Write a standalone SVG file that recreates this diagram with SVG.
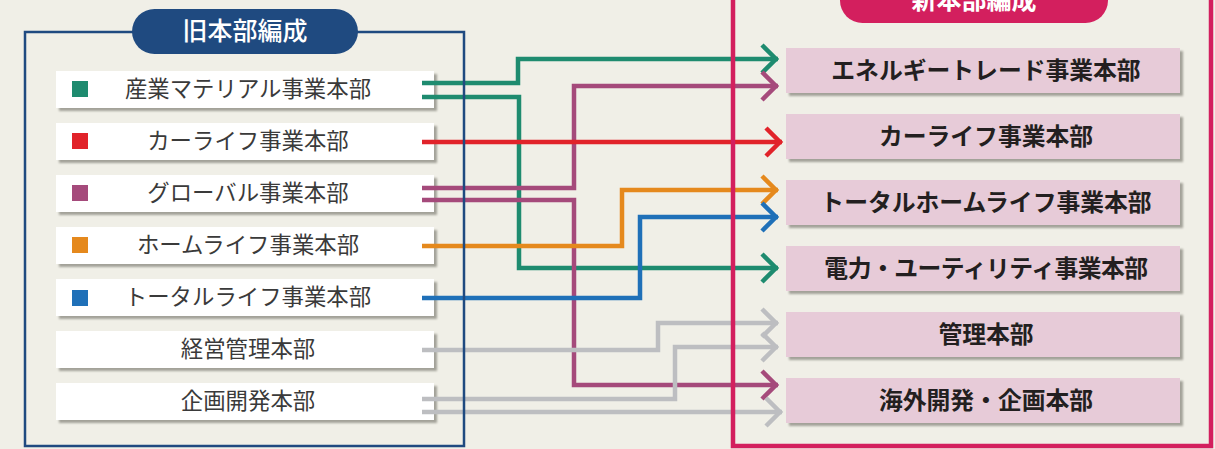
<svg xmlns="http://www.w3.org/2000/svg" width="1215" height="449" viewBox="0 0 1215 449">
  <style>
    .old rect.box { fill: #ffffff; }
    .new rect.box { fill: #e7cbd8; }
    .shadow { fill: #a3a299; filter: url(#soft); }
    .oldtxt { font-family: "Noto Sans CJK JP", "Noto Sans", sans-serif; font-size: 22.4px; fill: #3a3a3a; text-anchor: middle; }
    .newtxt { font-family: "Noto Sans CJK JP", "Noto Sans", sans-serif; font-size: 23.8px; font-weight: bold; fill: #231f20; text-anchor: middle; }
    .title { font-family: "Noto Sans CJK JP", "Noto Sans", sans-serif; font-size: 25px; font-weight: bold; fill: #ffffff; text-anchor: middle; }
    .link { fill: none; stroke-width: 4.5; stroke-linejoin: miter; }
    .teal { stroke: #1e8b6f; }
    .mag { stroke: #a54a7b; }
    .red { stroke: #e1232a; }
    .orange { stroke: #e5891d; }
    .blue { stroke: #1f70b8; }
    .gray { stroke: #bdbec1; }
  </style>
  <defs>
    <filter id="soft" x="-5%" y="-20%" width="110%" height="140%">
      <feGaussianBlur stdDeviation="1"/>
    </filter>
    <marker id="ah-teal" markerUnits="userSpaceOnUse" markerWidth="40" markerHeight="40" viewBox="-20 -20 40 40" refX="0" refY="0" orient="auto" overflow="visible">
      <path d="M-16,-14 L-2,0 L-16,14" fill="none" stroke="#1e8b6f" stroke-width="4.5"/>
    </marker>
    <marker id="ah-mag" markerUnits="userSpaceOnUse" markerWidth="40" markerHeight="40" viewBox="-20 -20 40 40" refX="0" refY="0" orient="auto" overflow="visible">
      <path d="M-16,-14 L-2,0 L-16,14" fill="none" stroke="#a54a7b" stroke-width="4.5"/>
    </marker>
    <marker id="ah-red" markerUnits="userSpaceOnUse" markerWidth="40" markerHeight="40" viewBox="-20 -20 40 40" refX="0" refY="0" orient="auto" overflow="visible">
      <path d="M-16,-14 L-2,0 L-16,14" fill="none" stroke="#e1232a" stroke-width="4.5"/>
    </marker>
    <marker id="ah-orange" markerUnits="userSpaceOnUse" markerWidth="40" markerHeight="40" viewBox="-20 -20 40 40" refX="0" refY="0" orient="auto" overflow="visible">
      <path d="M-16,-14 L-2,0 L-16,14" fill="none" stroke="#e5891d" stroke-width="4.5"/>
    </marker>
    <marker id="ah-blue" markerUnits="userSpaceOnUse" markerWidth="40" markerHeight="40" viewBox="-20 -20 40 40" refX="0" refY="0" orient="auto" overflow="visible">
      <path d="M-16,-14 L-2,0 L-16,14" fill="none" stroke="#1f70b8" stroke-width="4.5"/>
    </marker>
    <marker id="ah-gray" markerUnits="userSpaceOnUse" markerWidth="40" markerHeight="40" viewBox="-20 -20 40 40" refX="0" refY="0" orient="auto" overflow="visible">
      <path d="M-16,-14 L-2,0 L-16,14" fill="none" stroke="#bdbec1" stroke-width="4.5"/>
    </marker>
  </defs>

  <!-- page background -->
  <rect x="0" y="0" width="1215" height="449" fill="#f0efe7"/>

  <!-- former divisions -->
  <g id="old-1" class="old">
    <rect class="shadow" x="59" y="74" width="378" height="37"/>
    <rect class="box" x="56" y="71" width="378" height="37"/>
    <rect x="72" y="81" width="16" height="16" fill="#1e8b6f"/>
    <text class="oldtxt" x="248" y="97">産業マテリアル事業本部</text>
  </g>
  <g id="old-2" class="old">
    <rect class="shadow" x="59" y="126" width="378" height="37"/>
    <rect class="box" x="56" y="123" width="378" height="37"/>
    <rect x="72" y="133" width="16" height="16" fill="#e1232a"/>
    <text class="oldtxt" x="248" y="149">カーライフ事業本部</text>
  </g>
  <g id="old-3" class="old">
    <rect class="shadow" x="59" y="178" width="378" height="37"/>
    <rect class="box" x="56" y="175" width="378" height="37"/>
    <rect x="72" y="185" width="16" height="16" fill="#a54a7b"/>
    <text class="oldtxt" x="248" y="201">グローバル事業本部</text>
  </g>
  <g id="old-4" class="old">
    <rect class="shadow" x="59" y="230" width="378" height="37"/>
    <rect class="box" x="56" y="227" width="378" height="37"/>
    <rect x="72" y="237" width="16" height="16" fill="#e5891d"/>
    <text class="oldtxt" x="248" y="253">ホームライフ事業本部</text>
  </g>
  <g id="old-5" class="old">
    <rect class="shadow" x="59" y="282" width="378" height="37"/>
    <rect class="box" x="56" y="279" width="378" height="37"/>
    <rect x="72" y="290" width="16" height="16" fill="#1f70b8"/>
    <text class="oldtxt" x="248" y="305">トータルライフ事業本部</text>
  </g>
  <g id="old-6" class="old">
    <rect class="shadow" x="59" y="334" width="378" height="37"/>
    <rect class="box" x="56" y="331" width="378" height="37"/>
    <text class="oldtxt" x="248" y="357">経営管理本部</text>
  </g>
  <g id="old-7" class="old">
    <rect class="shadow" x="59" y="386" width="378" height="37"/>
    <rect class="box" x="56" y="383" width="378" height="37"/>
    <text class="oldtxt" x="248" y="409">企画開発本部</text>
  </g>

  <!-- reorganisation links -->
  <g id="connectors">
    <path class="link teal" d="M422,83 H518 V59 H778" marker-end="url(#ah-teal)"/>
    <path class="link teal" d="M422,97 H519 V268 H778" marker-end="url(#ah-teal)"/>
    <path class="link mag" d="M422,200 H574 V385 H778" marker-end="url(#ah-mag)"/>
    <path class="link mag" d="M422,188 H574 V86 H778" marker-end="url(#ah-mag)"/>
    <path class="link orange" d="M422,246 H622 V190 H778" marker-end="url(#ah-orange)"/>
    <path class="link blue" d="M422,298 H640 V217 H778" marker-end="url(#ah-blue)"/>
    <path class="link gray" d="M422,350 H658 V323 H778" marker-end="url(#ah-gray)"/>
    <path class="link gray" d="M422,399 H675 V347 H778" marker-end="url(#ah-gray)"/>
    <path class="link gray" d="M422,412 H782" marker-end="url(#ah-gray)"/>
    <path class="link red" d="M422,142 H782" marker-end="url(#ah-red)"/>
  </g>

  <!-- former structure frame -->
  <g id="old-frame">
    <rect x="25" y="32" width="439" height="414" fill="none" stroke="#1f4a80" stroke-width="2.5"/>
    <rect x="132" y="9" width="226" height="45" rx="22.5" fill="#1f4a80"/>
    <text class="title" x="245" y="40" style="font-weight:500">旧本部編成</text>
  </g>

  <!-- new structure frame -->
  <g id="new-frame">
    <rect x="733" y="-4" width="478" height="450" fill="none" stroke="#d31f5e" stroke-width="4.5"/>
    <rect x="840" y="-22" width="268" height="45" rx="22.5" fill="#d31f5e"/>
    <text class="title" x="974" y="9">新本部編成</text>
  </g>

  <!-- new divisions -->
  <g id="new-1" class="new">
    <rect class="shadow" x="789" y="51" width="394" height="45"/>
    <rect class="box" x="786" y="48" width="394" height="45"/>
    <text class="newtxt" x="986" y="79">エネルギートレード事業本部</text>
  </g>
  <g id="new-2" class="new">
    <rect class="shadow" x="789" y="117" width="394" height="45"/>
    <rect class="box" x="786" y="114" width="394" height="45"/>
    <text class="newtxt" x="986" y="145">カーライフ事業本部</text>
  </g>
  <g id="new-3" class="new">
    <rect class="shadow" x="789" y="183" width="394" height="45"/>
    <rect class="box" x="786" y="180" width="394" height="45"/>
    <text class="newtxt" x="986" y="211">トータルホームライフ事業本部</text>
  </g>
  <g id="new-4" class="new">
    <rect class="shadow" x="789" y="249" width="394" height="45"/>
    <rect class="box" x="786" y="246" width="394" height="45"/>
    <text class="newtxt" x="986" y="277" style="letter-spacing:-0.5px">電力・ユーティリティ事業本部</text>
  </g>
  <g id="new-5" class="new">
    <rect class="shadow" x="789" y="315" width="394" height="45"/>
    <rect class="box" x="786" y="312" width="394" height="45"/>
    <text class="newtxt" x="986" y="343">管理本部</text>
  </g>
  <g id="new-6" class="new">
    <rect class="shadow" x="789" y="381" width="394" height="45"/>
    <rect class="box" x="786" y="378" width="394" height="45"/>
    <text class="newtxt" x="986" y="409">海外開発・企画本部</text>
  </g>
</svg>
